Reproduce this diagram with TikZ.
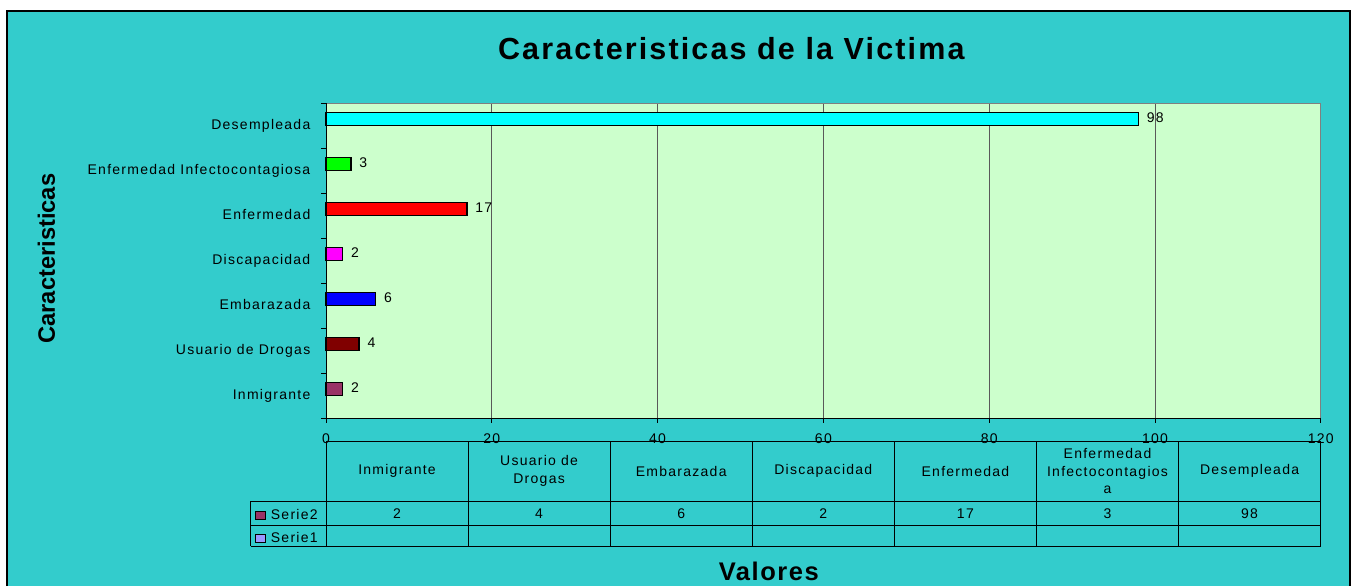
\documentclass[tikz,border=0pt]{standalone}
\usepackage{fontspec}
\setmainfont{Liberation Sans}
\newfontfamily\chartfont{Liberation Sans}[LetterSpace=9]
\newfontfamily\titlefont{Liberation Sans}[LetterSpace=7]
\newfontfamily\valfont{Liberation Sans}[LetterSpace=6]
\usepackage{tikz}
\usepackage{xcolor}
\definecolor{chartbg}{RGB}{51,204,204}
\definecolor{plotbg}{RGB}{204,255,204}
\definecolor{barcyan}{RGB}{0,255,255}
\definecolor{bargreen}{RGB}{0,255,0}
\definecolor{barred}{RGB}{255,0,0}
\definecolor{barmagenta}{RGB}{255,0,255}
\definecolor{barblue}{RGB}{0,0,255}
\definecolor{darkred}{RGB}{128,0,0}
\definecolor{serieA}{RGB}{153,51,102}
\definecolor{serieB}{RGB}{153,153,255}
\newcommand{\chartsmall}{\chartfont\fontsize{14}{17.8}\selectfont}

\begin{document}
\begin{tikzpicture}[x=1pt, y=-1pt,
    catlbl/.style={anchor=base east, inner sep=0pt, font=\chartsmall},
    vallbl/.style={anchor=base west, inner sep=0pt, font=\chartsmall},
    ticklbl/.style={anchor=base, inner sep=0pt, font=\chartsmall},
    cell/.style={inner sep=0pt, align=center, font=\chartsmall},
    barbox/.style={draw=black, line width=1.4pt},
    gridln/.style={draw=black!65, line width=1pt},
    tblline/.style={draw=black, line width=1pt}]
% Page and chart area
\useasboundingbox (0,0) rectangle (1359,586);
\fill[white] (0,0) rectangle (1359,586);
\fill[chartbg] (7,11) rectangle (1350,586);
\draw[line width=1.5pt] (7,586) -- (7,11) -- (1350,11) -- (1350,586);

% Title
\node[anchor=base, inner sep=0pt, font=\titlefont\bfseries\fontsize{30.5}{36}\selectfont] (title) at (731.3,59.3) {Caracteristicas de la Victima};

% Plot area and grid
\fill[plotbg] (326,103.3) rectangle (1320.7,418.3);
\foreach \v in {20,40,...,100}
    \draw[gridln] ({326+\v*8.29},103.3) -- ({326+\v*8.29},418.3);
\draw[draw=gray, line width=1pt] (326,103.3) -- (1320.7,103.3) -- (1320.7,418.3);
\draw[line width=1pt] (326,103.3) -- (326,418.3) -- (1320.7,418.3);

% Ticks on y-axis
\foreach \i in {0,...,7}
    \draw[line width=1pt] (321,{103.3+\i*45}) -- (326,{103.3+\i*45});

% Ticks on x-axis
\foreach \v in {0,20,...,120} {
    \draw[line width=1pt] ({326+\v*8.29},418.3) -- ({326+\v*8.29},423);
    \node[ticklbl] (t\v) at ({326+\v*8.29},443) {\v};
}

% Bars with category and value labels
\foreach \i/\name/\clr/\val in {0/Desempleada/barcyan/98, 1/Enfermedad Infectocontagiosa/bargreen/3,
        2/Enfermedad/barred/17, 3/Discapacidad/barmagenta/2, 4/Embarazada/barblue/6,
        5/Usuario de Drogas/darkred/4, 6/Inmigrante/serieA/2} {
    \draw[barbox, fill=\clr] (326,{103.3+\i*45+9}) rectangle ({326+\val*8.29},{103.3+\i*45+22});
    \node[catlbl] (c\i) at (310.5,{103.3+\i*45+26}) {\name};
    \node[vallbl] (v\i) at ({326+\val*8.29+8.3},{103.3+\i*45+18.7}) {\val};
}

% Axis titles
\node[rotate=90, inner sep=0pt, font=\bfseries\fontsize{23.7}{28}\selectfont] (ytitle) at (46.5,258.7) {Caracteristicas};
\node[anchor=base, inner sep=0pt, font=\valfont\bfseries\fontsize{25.5}{30}\selectfont] (xtitle) at (768.8,580.7) {Valores};

% Data table
\draw[tblline] (326,441) -- (1320.7,441);
\foreach \y in {501,525.3,546}
    \draw[tblline] (250.7,\y) -- (1320.7,\y);
\draw[tblline] (250.7,501) -- (250.7,546);
\foreach \k in {0,...,7}
    \draw[tblline] ({326+\k*142.1},441) -- ({326+\k*142.1},546);
\foreach \k/\txt in {0/Inmigrante, 1/{Usuario de\\Drogas}, 2/Embarazada, 3/Discapacidad,
        4/Enfermedad, 5/{Enfermedad\\Infectocontagios\\a}, 6/Desempleada}
    \node[cell] (h\k) at ({326+\k*142.1+71},471) {\txt};
\foreach \k/\val in {0/2, 1/4, 2/6, 3/2, 4/17, 5/3, 6/98}
    \node[cell] (d\k) at ({326+\k*142.1+71},513.5) {\val};

% Legend keys
\draw[line width=1pt, fill=serieA] (255.7,511.7) rectangle (265.7,519.3);
\node[anchor=west, inner sep=0pt, font=\chartsmall] (s2) at (270.7,514.5) {Serie2};
\draw[line width=1pt, fill=serieB] (255.7,534) rectangle (265.7,542);
\node[anchor=west, inner sep=0pt, font=\chartsmall] (s1) at (270.7,537.5) {Serie1};
\end{tikzpicture}
\end{document}
